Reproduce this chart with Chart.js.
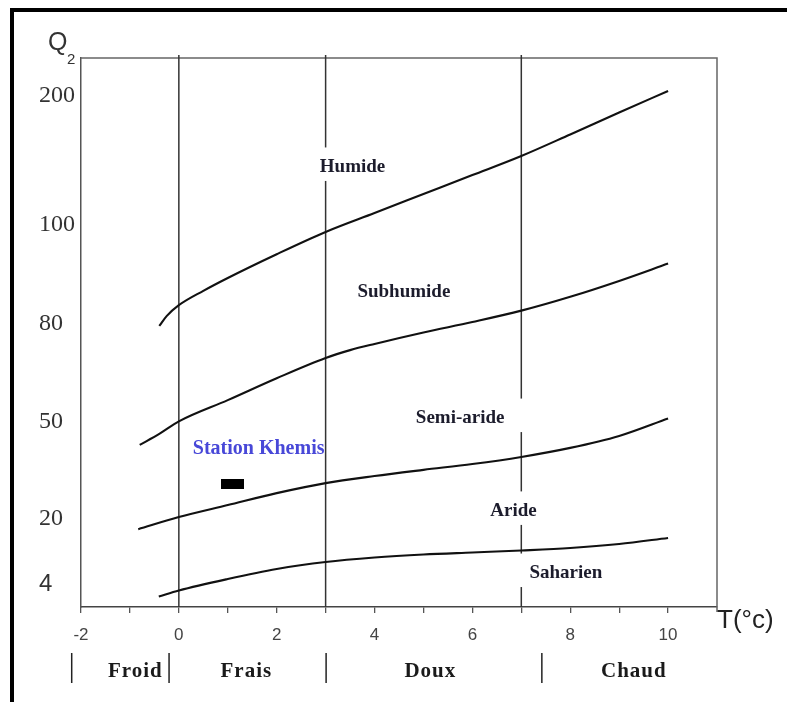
<!DOCTYPE html>
<html>
<head>
<meta charset="utf-8">
<script src="https://cdn.jsdelivr.net/npm/chart.js@4/dist/chart.umd.min.js"></script>
<style>
  body { margin: 0; background: #fff; }
  #wrap { position: relative; width: 787px; height: 702px; }
</style>
</head>
<body>
<div id="wrap"><canvas id="climagram" width="787" height="702"></canvas></div>
<script>
// Q2 axis of the drawing is not linear: tick values and where they sit on the axis
const q2Ticks = [4, 20, 50, 80, 100, 200];
const q2TickPos = [23, 88, 185, 283, 382, 511];
const tTicks = [-2, -1, 0, 1, 2, 3, 4, 5, 6, 7, 8, 9, 10];

// boundary curves, T (°C) and Q2
const humideT = [-0.4, -0.25, 0, 0.5, 1, 2, 3, 4, 5, 6, 7, 8, 9, 10];
const humideQ = [79.4, 81.6, 83.8, 86.7, 89.3, 94.1, 98.6, 109.3, 124.0, 138.7, 153.5, 170.2, 187.2, 203.9];

const subhumideT = [-0.8, -0.4, 0, 1, 2, 3, 3.5, 4, 5, 6, 7, 8, 9, 10];
const subhumideQ = [42.9, 46.3, 50.2, 56.7, 63.4, 69.6, 72.0, 73.9, 77.4, 80.4, 82.7, 85.5, 88.7, 92.2];

const semiarideT = [-0.83, 0, 1, 2, 3, 4, 5, 6, 7, 8, 9, 10];
const semiarideQ = [17.5, 20.6, 24.3, 28.0, 31.1, 33.3, 35.2, 37.0, 39.2, 42.0, 45.7, 51.1];

const arideT = [-0.41, 0, 1, 2, 3, 4, 5, 6, 7, 8, 9, 10];
const arideQ = [0.92, 2.4, 5.23, 7.69, 9.42, 10.52, 11.26, 11.76, 12.25, 12.86, 13.85, 15.33];

const stationT = [1.1];
const stationQ = [30.8];

// labels of the climate stages and where they are written
const regionNames = ['Humide', 'Subhumide', 'Semi-aride', 'Aride', 'Saharien'];
const regionT = [3.55, 4.6, 5.75, 6.84, 7.91];
const regionQ = [145, 86.5, 51.2, 22.5, 6.7];

// winter variants under the axis
const zoneNames = ['Froid', 'Frais', 'Doux', 'Chaud'];
const zoneMid = [-0.89, 1.38, 5.14, 9.3];
const zoneEdges = [-2.19, -0.2, 3.01, 7.42];
const dividerT = [0, 3, 7];

function toAxis(q) {
  const n = q2Ticks.length;
  let i = 0;
  if (q >= q2Ticks[n - 1]) i = n - 2;
  else if (q > q2Ticks[0]) { while (q > q2Ticks[i + 1]) i++; }
  const f = (q - q2Ticks[i]) / (q2Ticks[i + 1] - q2Ticks[i]);
  return q2TickPos[i] + f * (q2TickPos[i + 1] - q2TickPos[i]);
}

function curve(ts, qs) {
  return {
    data: ts.map((t, i) => ({ x: t, y: toAxis(qs[i]) })),
    borderColor: '#111',
    borderWidth: 2.1,
    pointRadius: 0,
    cubicInterpolationMode: 'monotone',
    fill: false
  };
}

// small black bar used as the station marker
const mark = document.createElement('canvas');
mark.width = 23; mark.height = 10;
const mctx = mark.getContext('2d');
mctx.fillStyle = '#000';
mctx.fillRect(0, 0, 23, 10);

const SERIF = '"Liberation Serif", "Times New Roman", serif';
const SANS = '"Liberation Sans", Arial, sans-serif';

const decor = {
  id: 'decor',
  beforeDraw(chart) {
    const ctx = chart.ctx;
    ctx.save();
    ctx.fillStyle = '#fff';
    ctx.fillRect(0, 0, chart.width, chart.height);
    ctx.fillStyle = '#000';
    ctx.fillRect(10, 8, chart.width, 4);
    ctx.fillRect(10, 8, 4, chart.height);
    ctx.restore();
  },
  beforeDatasetsDraw(chart) {
    const { ctx, chartArea: a, scales: { x } } = chart;
    ctx.save();
    ctx.strokeStyle = '#666';
    ctx.lineWidth = 1.5;
    ctx.beginPath();
    ctx.moveTo(a.left, a.top);
    ctx.lineTo(a.right, a.top);
    ctx.lineTo(a.right, a.bottom + 5);
    ctx.stroke();
    ctx.strokeStyle = '#333';
    dividerT.forEach(t => {
      const px = x.getPixelForValue(t);
      ctx.beginPath();
      ctx.moveTo(px, a.top - 3);
      ctx.lineTo(px, a.bottom);
      ctx.stroke();
    });
    ctx.restore();
  },
  afterDatasetsDraw(chart) {
    const { ctx, chartArea: a, scales: { x, y } } = chart;
    ctx.save();
    ctx.textAlign = 'center';
    ctx.textBaseline = 'middle';

    ctx.font = 'bold 19px ' + SERIF;
    regionNames.forEach((name, i) => {
      const cx = x.getPixelForValue(regionT[i]);
      const cy = y.getPixelForValue(toAxis(regionQ[i]));
      const w = ctx.measureText(name).width;
      ctx.fillStyle = '#fff';
      ctx.fillRect(cx - w / 2 - 25, cy - 19.5, w + 50, 33.5);
      ctx.fillStyle = '#1c1c2c';
      ctx.fillText(name, cx, cy);
    });

    // station name above its marker
    const sx = x.getPixelForValue(stationT[0]);
    const sy = y.getPixelForValue(toAxis(stationQ[0]));
    ctx.font = 'bold 20px ' + SERIF;
    ctx.fillStyle = '#4848d8';
    ctx.fillText('Station Khemis', sx + 26, sy - 35);

    // axis titles
    ctx.fillStyle = '#333';
    ctx.textAlign = 'left';
    ctx.textBaseline = 'alphabetic';
    ctx.font = '25px ' + SANS;
    ctx.fillText('Q', 48, 50);
    ctx.font = '15px ' + SANS;
    ctx.fillText('2', 67, 64);
    ctx.fillStyle = '#222';
    ctx.font = '26px ' + SANS;
    ctx.fillText('T(°c)', a.right, 628);

    // winter variants row
    ctx.strokeStyle = '#222';
    ctx.lineWidth = 1.5;
    zoneEdges.forEach(t => {
      const px = x.getPixelForValue(t);
      ctx.beginPath();
      ctx.moveTo(px, 653);
      ctx.lineTo(px, 683);
      ctx.stroke();
    });
    ctx.textAlign = 'center';
    ctx.textBaseline = 'middle';
    ctx.font = 'bold 21px ' + SERIF;
    ctx.letterSpacing = '1px';
    ctx.fillStyle = '#1a1a1a';
    zoneNames.forEach((z, i) => {
      ctx.fillText(z, x.getPixelForValue(zoneMid[i]), 672);
    });
    ctx.restore();
  }
};

new Chart(document.getElementById('climagram'), {
  type: 'line',
  data: {
    datasets: [
      curve(humideT, humideQ),
      curve(subhumideT, subhumideQ),
      curve(semiarideT, semiarideQ),
      curve(arideT, arideQ),
      {
        data: stationT.map((t, i) => ({ x: t, y: toAxis(stationQ[i]) })),
        showLine: false,
        pointStyle: mark,
        pointRadius: 6
      }
    ]
  },
  options: {
    responsive: false,
    devicePixelRatio: 1,
    animation: false,
    layout: { padding: { left: 39, top: 58, right: 70, bottom: 0 } },
    plugins: { legend: { display: false }, tooltip: { enabled: false } },
    scales: {
      x: {
        type: 'linear',
        min: -2,
        max: 11,
        afterBuildTicks: s => { s.ticks = tTicks.map(v => ({ value: v })); },
        afterFit: s => { s.height = 95; },
        ticks: {
          autoSkip: false,
          maxRotation: 0,
          padding: 12,
          color: '#444',
          font: { family: SANS, size: 17 },
          callback: v => (v % 2 === 0 ? String(v) : '')
        },
        grid: { drawOnChartArea: false, drawTicks: true, tickLength: 6, color: '#555', lineWidth: 1.3 },
        border: { color: '#444', width: 1.5 }
      },
      y: {
        type: 'linear',
        min: 0,
        max: 549,
        afterBuildTicks: s => { s.ticks = q2TickPos.map(v => ({ value: v })); },
        afterFit: s => { s.width = 42; },
        ticks: {
          crossAlign: 'far',
          color: '#333',
          font: c => ({ family: c.index === 0 ? SANS : SERIF, size: 24 }),
          callback: v => {
            const i = q2TickPos.indexOf(v);
            return i >= 0 ? String(q2Ticks[i]) : '';
          }
        },
        grid: { display: false },
        border: { display: true, color: '#555', width: 1.5 }
      }
    }
  },
  plugins: [decor]
});
</script>
</body>
</html>
